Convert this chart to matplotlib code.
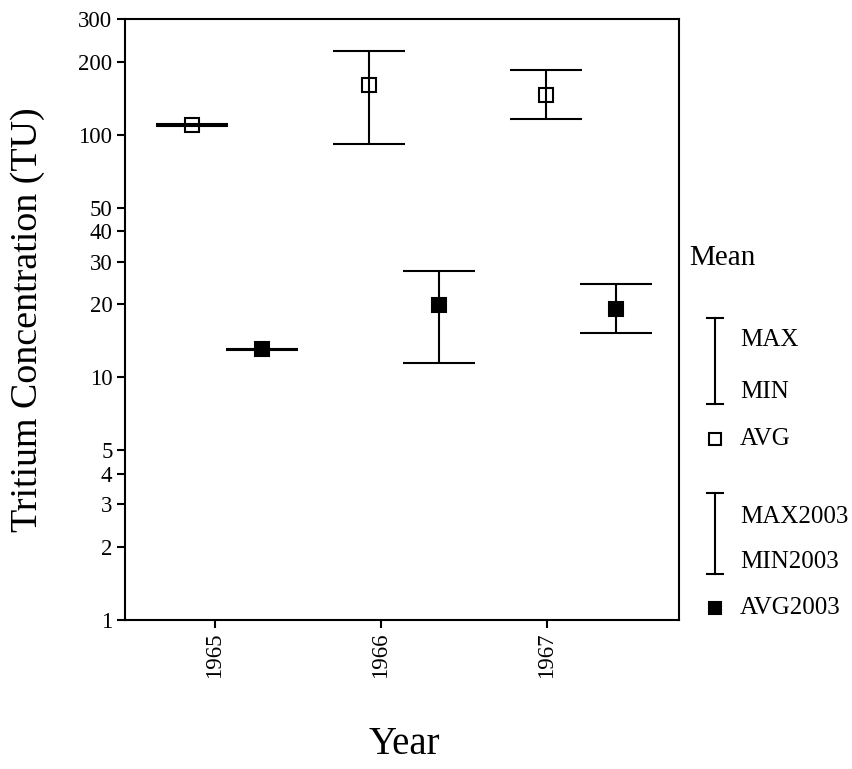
import matplotlib
matplotlib.use("Agg")
import matplotlib.pyplot as plt
from matplotlib.lines import Line2D
from matplotlib.ticker import FixedLocator, NullLocator, FixedFormatter
import numpy as np

plt.rcParams['font.family'] = ['Liberation Serif', 'DejaVu Serif']

# Data
years = ["1965", "1966", "1967"]
avg = [110, 160, 146]
max_ = [111, 221, 185]
min_ = [109, 91.5, 116.5]
avg2003 = [13.05, 19.9, 19.1]
max2003 = [13.15, 27.5, 24.3]
min2003 = [12.95, 11.5, 15.3]

y_ticks = [1, 2, 3, 4, 5, 10, 20, 30, 40, 50, 100, 200, 300]

W, H = 853, 769
fig = plt.figure(figsize=(W / 100, H / 100), dpi=100)


def fx(px):
    return px / W


def fy(py):
    return 1 - py / H


left, right, top, bottom = 125, 679, 19, 620
ax = fig.add_axes([fx(left), fy(bottom), fx(right - left), (bottom - top) / H])

ax.set_yscale('log')
ax.set_ylim(1, 300)
ax.set_xlim(-0.542, 2.795)

idx = np.arange(len(years))
# cluster positions of the two series around each year
step = 1.066
x_old = idx * step - 0.139
x_new = idx * step + 0.283

lw = 1.5
cap = 25.6
ms = 9.4

avg = np.array(avg); max_ = np.array(max_); min_ = np.array(min_)
avg2003 = np.array(avg2003); max2003 = np.array(max2003); min2003 = np.array(min2003)

ax.errorbar(x_old, avg, yerr=[avg - min_, max_ - avg], fmt='s', mfc='none',
            mec='black', ms=ms, mew=lw, ecolor='black', elinewidth=lw,
            capsize=cap, capthick=lw, zorder=3)
ax.errorbar(x_new, avg2003, yerr=[avg2003 - min2003, max2003 - avg2003], fmt='s',
            mfc='black', mec='black', ms=ms, mew=lw, ecolor='black',
            elinewidth=lw, capsize=cap, capthick=lw, zorder=3)

ax.yaxis.set_major_locator(FixedLocator(y_ticks))
ax.yaxis.set_major_formatter(FixedFormatter([str(t) for t in y_ticks]))
ax.yaxis.set_minor_locator(NullLocator())
ax.set_xticks(idx)
ax.set_xticklabels(years, rotation=90)

for s in ax.spines.values():
    s.set_linewidth(lw)
ax.tick_params(axis='both', direction='out', length=6, width=lw,
               labelsize=16.5, pad=3)

fig.text(fx(28), fy(320), "Tritium Concentration (TU)", rotation=90,
         ha='center', va='center', fontsize=27.4)
fig.text(fx(404), fy(745), "Year", ha='center', va='center', fontsize=28)

# Legend
fig.text(fx(689), fy(258), "Mean", ha='left', va='center', fontsize=21)

sym_x = 715
cap_half = 8


def bar_symbol(y_top, y_bot):
    fig.add_artist(Line2D([fx(sym_x), fx(sym_x)], [fy(y_top), fy(y_bot)],
                          color='black', lw=lw))
    for yy in (y_top, y_bot):
        fig.add_artist(Line2D([fx(sym_x - cap_half), fx(sym_x + cap_half)],
                              [fy(yy), fy(yy)], color='black', lw=lw))


bar_symbol(318, 404)
fig.add_artist(Line2D([fx(sym_x)], [fy(439)], marker='s', ms=8.8, mfc='none',
                      mec='black', mew=lw, lw=0))
bar_symbol(493, 574)
fig.add_artist(Line2D([fx(sym_x)], [fy(608)], marker='s', ms=9.2, mfc='black',
                      mec='black', mew=lw, lw=0))

tx = 740
for label, yy in [("MAX", 340), ("MIN", 392), ("AVG", 439),
                  ("MAX2003", 517), ("MIN2003", 562), ("AVG2003", 608)]:
    fig.text(fx(tx), fy(yy), label, ha='left', va='center', fontsize=18)

fig.savefig("out.png", dpi=100)
